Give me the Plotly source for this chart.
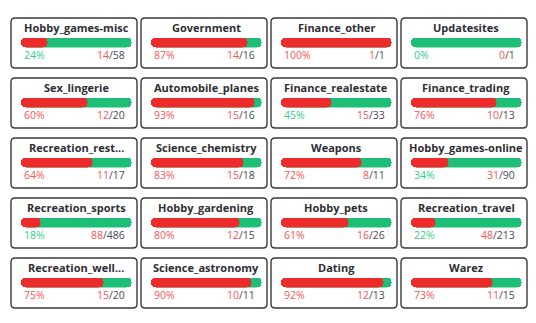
import math
import plotly.graph_objects as go

# ---- data ----
categories = [
    "Hobby_games-misc", "Government", "Finance_other", "Updatesites",
    "Sex_lingerie", "Automobile_planes", "Finance_realestate", "Finance_trading",
    "Recreation_rest...", "Science_chemistry", "Weapons", "Hobby_games-online",
    "Recreation_sports", "Hobby_gardening", "Hobby_pets", "Recreation_travel",
    "Recreation_well...", "Science_astronomy", "Dating", "Warez",
]
hits = [14, 14, 1, 0, 12, 15, 15, 10, 11, 15, 8, 31, 88, 12, 16, 48, 15, 10, 12, 11]
totals = [58, 16, 1, 1, 20, 16, 33, 13, 17, 18, 11, 90, 486, 15, 26, 213, 20, 11, 13, 15]

# ---- style ----
W, H = 536, 323
RED = "#ee2b2b"
GREEN = "#1dbf76"
RED_TXT = "#f45656"
GREEN_TXT = "#2fcf88"
DARK_TXT = "#4a4a55"
TITLE_TXT = "#2e2e33"
BORDER = "#3a3a3a"
NCOL = 4
CARD_W, CARD_H = 126, 50
X0, Y0, DX, DY = 11, 18, 130, 60


def px(x):
    return x / W


def py(y):
    return 1 - y / H


fig = go.Figure()
shapes = []
annotations = []
layout_axes = {}

for i, (cat, h, t) in enumerate(zip(categories, hits, totals)):
    r, c = divmod(i, NCOL)
    L = X0 + DX * c
    T = Y0 + DY * r
    R = L + CARD_W
    B = T + CARD_H
    bl, br = L + 9.7, L + 121.0
    bt, bb = T + 19.5, T + 29.5
    k = i + 1
    xa = "x" if k == 1 else f"x{k}"
    ya = "y" if k == 1 else f"y{k}"
    layout_axes["xaxis" if k == 1 else f"xaxis{k}"] = dict(
        domain=[px(bl), px(br)], range=[0, 1], visible=False, fixedrange=True,
        anchor=ya)
    layout_axes["yaxis" if k == 1 else f"yaxis{k}"] = dict(
        domain=[py(bb), py(bt)], range=[-0.5, 0.5], visible=False, fixedrange=True,
        anchor=xa)

    p = h / t
    # green full track
    fig.add_trace(go.Bar(x=[1], y=[0], base=[0], width=1,
                         orientation="h", marker_color=GREEN, marker_line_width=0,
                         xaxis=xa, yaxis=ya, hoverinfo="skip", showlegend=False))
    if h > 0:
        fig.add_trace(go.Bar(x=[p], y=[0], base=[0], width=1,
                             orientation="h", marker_color=RED, marker_line_width=0,
                             xaxis=xa, yaxis=ya, hoverinfo="skip", showlegend=False))

    # card border (rounded rectangle)
    rr = 4
    path = (f"M {px(L + rr)},{py(T)} L {px(R - rr)},{py(T)} Q {px(R)},{py(T)} {px(R)},{py(T + rr)} "
            f"L {px(R)},{py(B - rr)} Q {px(R)},{py(B)} {px(R - rr)},{py(B)} "
            f"L {px(L + rr)},{py(B)} Q {px(L)},{py(B)} {px(L)},{py(B - rr)} "
            f"L {px(L)},{py(T + rr)} Q {px(L)},{py(T)} {px(L + rr)},{py(T)} Z")
    shapes.append(dict(type="path", path=path, xref="paper", yref="paper",
                       line=dict(color=BORDER, width=1.4), fillcolor="rgba(0,0,0,0)",
                       layer="below"))

    # title
    annotations.append(dict(text=f"<b>{cat}</b>", x=px((bl + br) / 2), y=py(T + 9.3),
                            xref="paper", yref="paper", xanchor="center", yanchor="middle",
                            showarrow=False,
                            font=dict(family="Open Sans", size=11, color=TITLE_TXT)))
    pct = math.floor(100 * p)
    annotations.append(dict(text=f"{pct}%", x=px(bl + 1), y=py(T + 37.2),
                            xref="paper", yref="paper", xanchor="left", yanchor="middle",
                            showarrow=False,
                            font=dict(family="Open Sans", size=10.5,
                                      color=GREEN_TXT if pct < 50 else RED_TXT)))
    annotations.append(dict(text=f"<span style='color:{RED_TXT}'>{h}</span>/{t}",
                            x=px(br - 5.5), y=py(T + 37.2),
                            xref="paper", yref="paper", xanchor="right", yanchor="middle",
                            showarrow=False,
                            font=dict(family="Open Sans", size=10.5, color=DARK_TXT)))

fig.update_layout(
    width=W, height=H, autosize=False,
    margin=dict(l=0, r=0, t=0, b=0),
    paper_bgcolor="white", plot_bgcolor="rgba(0,0,0,0)",
    barmode="overlay", barcornerradius=5, bargap=0,
    shapes=shapes, annotations=annotations, showlegend=False,
    **layout_axes,
)

fig.write_html("out.html", config={"displayModeBar": False})
